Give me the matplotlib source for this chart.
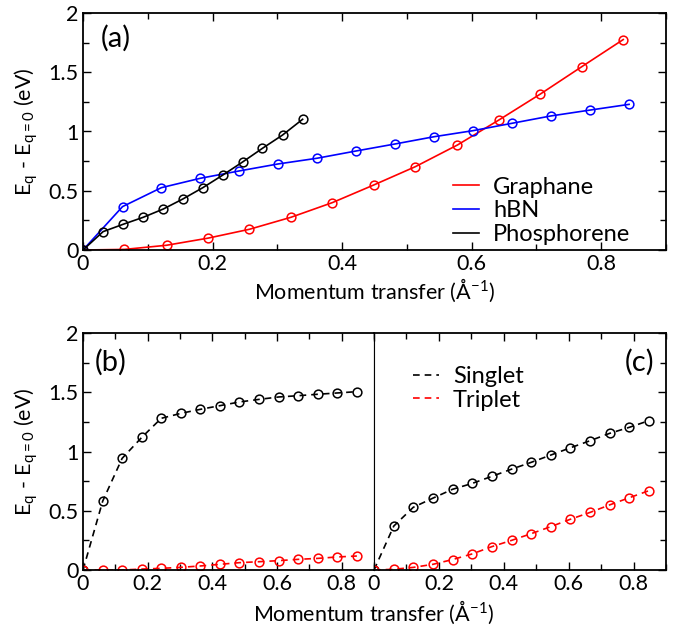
import matplotlib
matplotlib.use("Agg")
import matplotlib.pyplot as plt
from matplotlib.ticker import MultipleLocator
from matplotlib.lines import Line2D

fam = 'Lato'
plt.rcParams['font.family'] = [fam, 'DejaVu Sans']
plt.rcParams['mathtext.fontset'] = 'custom'
plt.rcParams['mathtext.rm'] = fam
plt.rcParams['mathtext.it'] = fam

# ---- Panel (a) data ----
graphane_x = [0, 0.064, 0.129, 0.193, 0.257, 0.321, 0.385, 0.449, 0.513, 0.578, 0.642, 0.706, 0.770, 0.834]
graphane_y = [0, 0.005, 0.04, 0.10, 0.175, 0.276, 0.40, 0.549, 0.703, 0.886, 1.097, 1.316, 1.547, 1.776]
hbn_x = [0, 0.061, 0.121, 0.181, 0.241, 0.301, 0.361, 0.421, 0.482, 0.542, 0.602, 0.662, 0.722, 0.783, 0.843]
hbn_y = [0, 0.366, 0.526, 0.605, 0.667, 0.726, 0.774, 0.835, 0.895, 0.956, 1.007, 1.069, 1.131, 1.181, 1.229]
phos_x = [0, 0.031, 0.062, 0.093, 0.124, 0.154, 0.185, 0.216, 0.247, 0.277, 0.308, 0.339]
phos_y = [0, 0.155, 0.217, 0.276, 0.346, 0.430, 0.526, 0.633, 0.745, 0.858, 0.970, 1.103]

# ---- Panels (b), (c) data ----
q = [0, 0.061, 0.121, 0.182, 0.242, 0.303, 0.363, 0.424, 0.484, 0.545, 0.605, 0.666, 0.726, 0.787, 0.847]
b_singlet = [0, 0.582, 0.942, 1.12, 1.28, 1.322, 1.356, 1.387, 1.418, 1.44, 1.46, 1.471, 1.483, 1.494, 1.505]
b_triplet = [0, 0, 0, 0.008, 0.014, 0.0225, 0.034, 0.048, 0.062, 0.070, 0.079, 0.090, 0.098, 0.110, 0.118]
c_singlet = [0, 0.371, 0.529, 0.607, 0.681, 0.731, 0.790, 0.851, 0.908, 0.97, 1.031, 1.091, 1.153, 1.204, 1.26]
c_triplet = [0, 0.006, 0.022, 0.048, 0.088, 0.136, 0.197, 0.25, 0.306, 0.366, 0.428, 0.486, 0.549, 0.61, 0.669]

xlabel = 'Momentum transfer (Å$^{-1}$)'
ylabel = 'E$_\\mathrm{q}$ - E$_\\mathrm{q = 0}$ (eV)'

W, H = 673, 629
fig = plt.figure(figsize=(W/100, H/100), dpi=100)

def frac(l, t, r, b):
    return [l/W, 1-b/H, (r-l)/W, (b-t)/H]

ax_a = fig.add_axes(frac(83, 13, 666, 250))
ax_b = fig.add_axes(frac(83, 333, 374, 570))
ax_c = fig.add_axes(frac(374, 333, 666, 570))

TICK_FS = 15.5
LAB_FS = 15.5
LEG_FS = 17
PAN_FS = 21

def style(ax, left=True, right=True):
    ax.set_xlim(0, 0.9)
    ax.set_ylim(0, 2)
    ax.xaxis.set_major_locator(MultipleLocator(0.2))
    ax.xaxis.set_minor_locator(MultipleLocator(0.1))
    ax.yaxis.set_major_locator(MultipleLocator(0.5))
    ax.yaxis.set_minor_locator(MultipleLocator(0.25))
    ax.tick_params(which='both', direction='in', top=True, bottom=True,
                   left=left, right=right, labelsize=TICK_FS, width=1.0, pad=3)
    ax.tick_params(which='major', length=6)
    ax.tick_params(which='minor', length=4)
    for s in ax.spines.values():
        s.set_linewidth(1.3)
    ax.yaxis.set_major_formatter(plt.FuncFormatter(lambda v, p: ('%g' % v)))
    ax.xaxis.set_major_formatter(plt.FuncFormatter(lambda v, p: ('%g' % v) if v < 0.85 else ''))

mk = dict(marker='o', markersize=6.3, markerfacecolor='none', markeredgewidth=1.1, linewidth=1.2)

# Panel (a)
style(ax_a)
ax_a.plot(graphane_x, graphane_y, color='red', **mk)
ax_a.plot(hbn_x, hbn_y, color='blue', **mk)
ax_a.plot(phos_x, phos_y, color='black', **mk)
ha = [Line2D([], [], color=c, lw=1.2) for c in ['red', 'blue', 'black']]
ax_a.legend(ha, ['Graphane', 'hBN', 'Phosphorene'], loc='lower right', frameon=False,
            fontsize=LEG_FS, handlelength=1.1, handletextpad=0.6, labelspacing=0.12,
            borderaxespad=0, bbox_to_anchor=(0.955, -0.02))
ax_a.text(0.03, 0.895, '(a)', transform=ax_a.transAxes, fontsize=PAN_FS, va='center')
ax_a.set_xlabel(xlabel, fontsize=LAB_FS, labelpad=2)
ax_a.set_ylabel(ylabel, fontsize=LAB_FS, labelpad=6)

dk = dict(mk, linestyle=(0, (4, 3)))
# Panel (b)
style(ax_b, left=True, right=False)
ax_b.plot(q, b_singlet, color='black', **dk)
ax_b.plot(q, b_triplet, color='red', **dk)
ax_b.text(0.04, 0.875, '(b)', transform=ax_b.transAxes, fontsize=PAN_FS, va='center')
ax_b.set_ylabel(ylabel, fontsize=LAB_FS, labelpad=6)
ax_b.spines['right'].set_linewidth(0.8)

# Panel (c)
style(ax_c, left=False, right=True)
ax_c.tick_params(labelleft=False, labelright=False)
ax_c.spines['left'].set_linewidth(0.8)
ax_c.plot(q, c_singlet, color='black', **dk)
ax_c.plot(q, c_triplet, color='red', **dk)
hc = [Line2D([], [], color=c, lw=1.2, linestyle=(0, (4, 3))) for c in ['black', 'red']]
ax_c.legend(hc, ['Singlet', 'Triplet'], loc='upper left', frameon=False,
            fontsize=LEG_FS, handlelength=1.1, handletextpad=0.6, labelspacing=0.1,
            borderaxespad=0, bbox_to_anchor=(0.1, 0.90))
ax_c.text(0.96, 0.875, '(c)', transform=ax_c.transAxes, fontsize=PAN_FS, va='center', ha='right')

fig.text(374/W, 1-621/H, xlabel, fontsize=LAB_FS, ha='center', va='baseline')

fig.savefig('out.png', dpi=100)
